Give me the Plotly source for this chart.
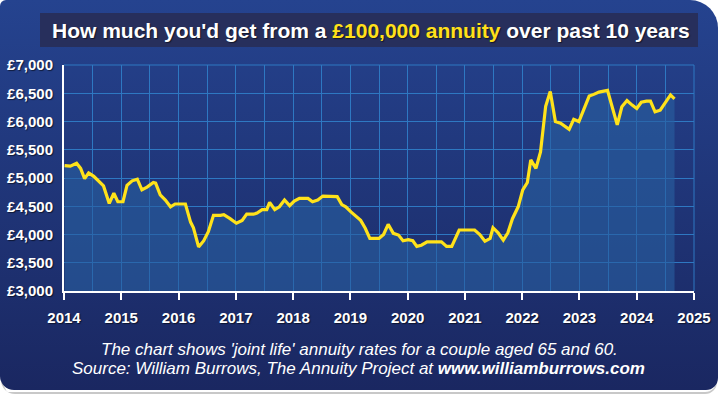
import base64
import plotly.graph_objects as go

# ---- data ----
years = [
    2014.01, 2014.11, 2014.22, 2014.29, 2014.36, 2014.43, 2014.52, 2014.61, 2014.69, 2014.79, 2014.87, 2014.94,
    2015.03, 2015.10, 2015.19, 2015.28, 2015.36, 2015.45, 2015.56, 2015.60, 2015.68, 2015.77, 2015.86, 2015.94,
    2016.12, 2016.21, 2016.26, 2016.35, 2016.44, 2016.52, 2016.61, 2016.73, 2016.79, 2016.90,
    2017.01, 2017.11, 2017.19, 2017.31, 2017.37, 2017.46, 2017.54, 2017.59, 2017.68, 2017.76, 2017.85, 2017.94,
    2018.02, 2018.11, 2018.26, 2018.34, 2018.43, 2018.52, 2018.65, 2018.77, 2018.85, 2018.92,
    2019.01, 2019.10, 2019.18, 2019.26, 2019.34, 2019.50, 2019.58, 2019.66, 2019.75, 2019.84, 2019.92,
    2020.01, 2020.09, 2020.16, 2020.24, 2020.34, 2020.59, 2020.68, 2020.77, 2020.90,
    2021.17, 2021.26, 2021.35, 2021.44, 2021.49, 2021.58, 2021.67, 2021.75, 2021.83, 2021.93,
    2022.01, 2022.09, 2022.15, 2022.24, 2022.32, 2022.41, 2022.49, 2022.58, 2022.67, 2022.82, 2022.90, 2022.99,
    2023.08, 2023.17, 2023.25, 2023.34, 2023.49, 2023.57, 2023.66, 2023.74, 2023.83, 2023.92,
    2024.00, 2024.08, 2024.17, 2024.24, 2024.32, 2024.41, 2024.50, 2024.59, 2024.66,
]
annuity_income = [
    5220, 5210, 5260, 5170, 4990, 5090, 5030, 4930, 4860, 4550, 4730, 4580,
    4580, 4870, 4950, 4980, 4790, 4840, 4920, 4910, 4700, 4610, 4490, 4540,
    4540, 4220, 4120, 3780, 3890, 4050, 4340, 4340, 4350, 4280,
    4200, 4250, 4360, 4360, 4380, 4440, 4440, 4570, 4440, 4490, 4610, 4510,
    4590, 4640, 4640, 4580, 4610, 4680, 4670, 4670, 4530, 4490,
    4400, 4310, 4250, 4110, 3930, 3930, 4000, 4180, 4020, 3990, 3890,
    3910, 3890, 3790, 3810, 3870, 3870, 3790, 3790, 4080,
    4080, 4000, 3880, 3930, 4120, 4030, 3900, 4030, 4280, 4490,
    4790, 4920, 5320, 5170, 5460, 6270, 6530, 6000, 5970, 5860, 6040, 6000,
    6230, 6450, 6480, 6520, 6550, 6260, 5940, 6260, 6370, 6290,
    6230, 6340, 6360, 6360, 6170, 6200, 6340, 6470, 6400,
]
year_ticks = list(range(2014, 2026))
y_ticks = [3000, 3500, 4000, 4500, 5000, 5500, 6000, 6500, 7000]

title_html = ("How much you'd get from a <span style='color:#FFE01A'>£100,000 annuity</span>"
              " over past 10 years")
caption_1 = "The chart shows 'joint life' annuity rates for a couple aged 65 and 60."
caption_2 = "Source: William Burrows, The Annuity Project at <b>www.williamburrows.com</b>"

# ---- geometry ----
WIDTH, HEIGHT = 719, 396
L, R, T, B = 64, 25, 65, 105
PW, PH = WIDTH - L - R, HEIGHT - T - B


def px(x):
    return (x - L) / PW


def py(y):
    return (HEIGHT - B - y) / PH


svg = f"""<svg xmlns='http://www.w3.org/2000/svg' width='{WIDTH}' height='{HEIGHT}' viewBox='0 0 {WIDTH} {HEIGHT}'>
<defs>
<linearGradient id='g' x1='0' y1='0' x2='0' y2='1'>
<stop offset='0' stop-color='#25438f'/><stop offset='1' stop-color='#1a2761'/>
</linearGradient>
</defs>
<path d='M7,392 H705 A12,12 0 0 0 717,380 V382 A12,12 0 0 1 705,394 H15 A14,14 0 0 1 1,380 Z' fill='#c8c8c8'/>
<path d='M6,0 H690 A28,28 0 0 1 718,28 V378 A12,12 0 0 1 706,390 H14 A14,14 0 0 1 0,376 V6 A6,6 0 0 1 6,0 Z' fill='url(#g)'/>
<rect x='40' y='13' width='658' height='34' fill='#272f5c'/>
</svg>"""
svg_uri = "data:image/svg+xml;base64," + base64.b64encode(svg.encode("utf-8")).decode("ascii")

FONT = "Liberation Sans, Arial, sans-serif"
GRID = "#2e78c2"
SHADOW = "1px 1px 1px rgba(0,0,0,0.55)"

fig = go.Figure()
fig.add_trace(go.Scatter(
    x=years, y=annuity_income, mode="lines",
    line=dict(color="#FFE21A", width=3.2),
    fill="tozeroy", fillcolor="rgba(40,95,160,0.62)",
    hoverinfo="skip", showlegend=False,
))

fig.update_layout(
    width=WIDTH, height=HEIGHT,
    margin=dict(l=L, r=R, t=T, b=B, pad=0, autoexpand=False),
    paper_bgcolor="white",
    plot_bgcolor="rgba(0,0,0,0)",
    showlegend=False,
    images=[dict(source=svg_uri, xref="paper", yref="paper",
                 x=px(0), y=py(0), sizex=WIDTH / PW, sizey=HEIGHT / PH,
                 xanchor="left", yanchor="top", sizing="stretch", layer="below")],
    xaxis=dict(
        range=[2014, 2025], tickmode="array", tickvals=year_ticks,
        ticktext=[str(y) for y in year_ticks],
        showgrid=True, gridcolor=GRID, gridwidth=1,
        minor=dict(dtick=0.5, tick0=2014, showgrid=True, gridcolor=GRID, gridwidth=1),
        ticks="outside", ticklen=7, tickwidth=2, tickcolor="white",
        showline=True, linecolor="white", linewidth=2,
        zeroline=False, ticklabelstandoff=5, automargin=False,
        tickfont=dict(family=FONT, size=15, color="white", weight="bold", shadow=SHADOW),
        fixedrange=True,
    ),
    yaxis=dict(
        range=[3000, 7000], tickmode="array", tickvals=y_ticks,
        ticktext=[f"£{v:,}" for v in y_ticks],
        showgrid=True, gridcolor=GRID, gridwidth=1,
        ticks="", showline=True, linecolor="white", linewidth=2,
        zeroline=False, ticklabelstandoff=6, automargin=False,
        tickfont=dict(family=FONT, size=15, color="white", weight="bold", shadow=SHADOW),
        fixedrange=True,
    ),
    shapes=[
        dict(type="line", xref="paper", yref="paper", x0=0, x1=1, y0=1, y1=1,
             line=dict(color=GRID, width=1)),
        dict(type="line", xref="paper", yref="paper", x0=1, x1=1, y0=0, y1=1,
             line=dict(color=GRID, width=1)),
    ],
    annotations=[
        dict(text=title_html, xref="paper", yref="paper", x=px(371), y=py(30),
             xanchor="center", yanchor="middle", showarrow=False,
             font=dict(family=FONT, size=21, color="white", weight="bold", shadow=SHADOW)),
        dict(text=caption_1, xref="paper", yref="paper", x=px(359), y=py(349),
             xanchor="center", yanchor="middle", showarrow=False,
             font=dict(family=FONT, size=17, color="white", style="italic")),
        dict(text=caption_2, xref="paper", yref="paper", x=px(358), y=py(369),
             xanchor="center", yanchor="middle", showarrow=False,
             font=dict(family=FONT, size=17, color="white", style="italic")),
    ],
)

fig.write_html(
    "out.html",
    config={"displayModeBar": False, "staticPlot": True},
    post_script="document.body.style.margin='0';document.body.style.overflow='hidden';",
)
